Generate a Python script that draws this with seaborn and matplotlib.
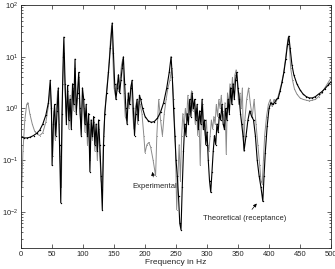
import pandas as pd
import seaborn as sns
import matplotlib.pyplot as plt

# theoretical receptance (black)
f_theo = [0, 5, 10, 15, 20, 25, 30, 35, 40, 44, 47, 49, 50, 52, 54, 56, 58, 60, 62, 64,
          66, 68, 69, 71, 73, 75, 77, 79, 81, 83, 85, 87, 89, 91, 93, 95, 97, 99, 101, 103,
          105, 107, 109, 111, 113, 115, 117, 119, 121, 123, 125, 127, 129, 131, 133, 135, 138, 141, 144, 147,
          149, 151, 153, 155, 157, 159, 161, 163, 165, 167, 169, 171, 173, 175, 177, 179, 181, 183, 185, 187,
          189, 191, 193, 196, 200, 205, 210, 215, 220, 225, 230, 235, 239, 242, 244, 246, 248, 250, 252, 254,
          256, 258, 260, 262, 264, 266, 268, 270, 272, 274, 276, 278, 280, 282, 284, 286, 288, 290, 292, 294,
          296, 298, 300, 302, 304, 306, 308, 310, 312, 314, 316, 318, 320, 322, 324, 326, 328, 330, 332, 334,
          336, 338, 340, 342, 344, 346, 348, 350, 352, 354, 356, 358, 360, 363, 366, 369, 372, 375, 378, 381,
          384, 387, 390, 392, 394, 397, 400, 403, 406, 409, 412, 415, 418, 421, 424, 427, 430, 432, 434, 437,
          440, 445, 450, 455, 460, 465, 470, 475, 480, 485, 490, 495, 500]
v_theo = [0.28, 0.27, 0.27, 0.28, 0.3, 0.33, 0.38, 0.5, 0.75, 1.3, 3.5, 1.0, 0.08, 0.5, 1.2, 0.3, 0.9, 2.5, 0.2, 0.015,
          0.8, 10, 24, 3, 0.5, 2.8, 0.6, 1.5, 0.4, 3, 1.2, 9, 0.8, 2, 5, 1, 0.3, 2.5, 1.5, 0.5,
          1.2, 0.3, 0.8, 0.06, 0.6, 0.3, 0.7, 0.2, 0.5, 0.15, 0.6, 0.2, 0.05, 0.011, 0.2, 0.8, 2, 5, 15, 45,
          12, 3, 1.5, 2.5, 4.5, 2, 3.5, 6, 10, 3, 1, 0.5, 2, 1.2, 2.5, 3.5, 1, 0.3, 0.8, 1.5,
          0.6, 1.8, 1.5, 1.0, 0.7, 0.58, 0.54, 0.56, 0.65, 0.85, 1.3, 2.5, 5, 10, 4, 1, 0.3, 0.1, 0.05, 0.02,
          0.006, 0.0045, 0.03, 0.15, 0.5, 0.3, 0.8, 0.5, 1.5, 0.7, 2, 1, 1.5, 0.6, 1.2, 0.4, 0.9, 0.5, 1.5, 0.4,
          0.6, 0.2, 0.35, 0.1, 0.04, 0.024, 0.06, 0.15, 0.3, 0.2, 0.5, 0.35, 0.8, 0.6, 1.2, 0.5, 0.4, 1.0, 0.6, 1.5,
          0.8, 2.5, 1.2, 3, 1.5, 3.5, 5, 2.5, 1.5, 0.8, 0.5, 0.3, 0.16, 0.3, 0.6, 0.9, 0.7, 0.6, 0.3, 0.1,
          0.05, 0.03, 0.016, 0.05, 0.14, 0.45, 1.0, 1.3, 1.2, 1.3, 1.5, 1.6, 2.2, 3.2, 5, 9, 18, 25, 15, 7,
          4.5, 3, 2.3, 1.9, 1.7, 1.6, 1.6, 1.7, 1.9, 2.1, 2.4, 2.8, 3.3]

# experimental (grey)
f_exp = [1, 3, 6, 9, 11, 14, 18, 22, 26, 30, 35, 40, 44, 47, 49, 51, 53, 55, 57, 59,
         61, 63, 65, 67, 69, 71, 73, 75, 77, 79, 81, 83, 85, 87, 89, 91, 93, 95, 97, 99,
         101, 103, 105, 107, 109, 111, 113, 115, 117, 119, 121, 123, 125, 127, 129, 131, 133, 136, 139, 142,
         144, 146, 148, 150, 152, 154, 156, 158, 160, 162, 164, 166, 168, 170, 172, 174, 176, 178, 180, 182,
         184, 186, 188, 190, 192, 195, 198, 200, 203, 206, 209, 213, 217, 219, 222, 225, 228, 231, 234, 237,
         240, 243, 246, 249, 251, 253, 255, 257, 259, 261, 263, 265, 267, 269, 271, 273, 275, 277, 279, 281,
         283, 285, 287, 289, 291, 293, 295, 297, 299, 301, 303, 305, 307, 309, 311, 313, 315, 317, 319, 321,
         323, 325, 327, 329, 331, 333, 335, 337, 339, 341, 343, 345, 347, 349, 351, 353, 355, 357, 359, 361,
         364, 367, 370, 373, 376, 379, 382, 385, 387, 389, 391, 393, 396, 399, 402, 405, 408, 411, 414, 417,
         420, 423, 426, 429, 431, 433, 435, 438, 441, 445, 450, 455, 460, 465, 470, 475, 480, 485, 490, 495, 500]
v_exp = [0.03, 0.15, 0.6, 1.2, 1.3, 0.8, 0.5, 0.36, 0.32, 0.3, 0.34, 0.55, 1.1, 2.5, 0.7, 0.12, 0.9, 0.25, 1.0, 2.2,
         0.5, 0.12, 0.03, 3, 12, 2, 0.7, 2.2, 0.4, 1.8, 0.6, 2.5, 0.9, 6, 1.0, 1.6, 4, 0.8, 0.4, 1.8,
         1.0, 0.35, 0.9, 0.2, 0.5, 0.1, 0.4, 0.25, 0.55, 0.15, 0.35, 0.1, 0.4, 0.12, 0.04, 0.03, 0.3, 1.2, 3, 8,
         20, 40, 10, 2.5, 1.8, 3, 2.2, 2.8, 4, 7, 9, 2, 0.7, 0.6, 1.5, 1.0, 2, 3, 0.8, 0.4,
         1.0, 1.3, 0.5, 1.4, 1.2, 0.8, 0.3, 0.14, 0.2, 0.22, 0.18, 0.1, 0.05, 0.3, 1.5, 0.6, 0.3, 0.8, 1.5, 2.5,
         3.5, 6, 1.5, 0.2, 0.011, 0.05, 0.2, 0.04, 0.3, 0.8, 0.4, 1.0, 0.6, 1.8, 0.8, 1.3, 2.2, 0.9, 1.2, 0.5,
         1.0, 0.3, 0.7, 0.08, 0.8, 1.2, 0.5, 0.3, 0.6, 0.2, 0.15, 0.3, 0.6, 0.4, 0.7, 0.5, 1.2, 0.7, 1.5, 1.0,
         1.8, 0.9, 0.6, 1.3, 0.13, 2, 1.2, 3, 1.8, 4, 2, 4.5, 5.6, 3, 1.2, 2, 1.0, 2.5, 0.15, 0.6,
         1.5, 2.5, 1.2, 0.7, 1.5, 0.5, 0.2, 0.08, 0.04, 0.035, 0.1, 0.3, 0.7, 1.2, 1.5, 1.1, 1.5, 1.3, 1.6, 2.2,
         3, 4.5, 8, 16, 24, 14, 6, 3.5, 2.4, 1.9, 1.6, 1.5, 1.45, 1.4, 1.45, 1.5, 1.7, 2.0, 2.5, 3.1, 3.9]

theo = pd.DataFrame({"freq": f_theo, "acc": v_theo})
exp = pd.DataFrame({"freq": f_exp, "acc": v_exp})

sns.set_style("ticks")
plt.rcParams["font.family"] = ["Liberation Sans", "DejaVu Sans"]

fig = plt.figure(figsize=(3.35, 2.69), dpi=100)
ax = fig.add_axes([0.063, 0.078, 0.925, 0.903])

sns.lineplot(data=exp, x="freq", y="acc", ax=ax, color="#8a8a8a", linewidth=0.7,
             marker=".", markersize=1.5, markeredgewidth=0, estimator=None, sort=False)
sns.lineplot(data=theo, x="freq", y="acc", ax=ax, color="black", linewidth=0.8,
             marker=".", markersize=2, markeredgewidth=0, estimator=None, sort=False)

ax.set_yscale("log")
ax.set_xlim(0, 500)
ax.set_ylim(2e-3, 100)
ax.set_xticks(range(0, 501, 50))
ax.tick_params(which="both", direction="in", top=True, right=True, labelsize=5.5,
               width=0.5, pad=2)
ax.tick_params(which="major", length=3)
ax.tick_params(which="minor", length=1.5)
for s in ax.spines.values():
    s.set_linewidth(0.6)

ax.set_xlabel("Frequency in Hz", fontsize=6, labelpad=1)
ax.set_ylabel("Acceleration in ms$^{-2}$", fontsize=6, labelpad=1)

ax.annotate("Experimental", xy=(211, 0.067), xytext=(216, 0.031), fontsize=5.5,
            ha="center", va="center",
            arrowprops=dict(arrowstyle="-|>", color="black", lw=0.5, mutation_scale=5))
ax.annotate("Theoretical (receptance)", xy=(383, 0.016), xytext=(361, 0.0075), fontsize=5.5,
            ha="center", va="center",
            arrowprops=dict(arrowstyle="-|>", color="black", lw=0.5, mutation_scale=5))

fig.savefig("out.png", dpi=100)
